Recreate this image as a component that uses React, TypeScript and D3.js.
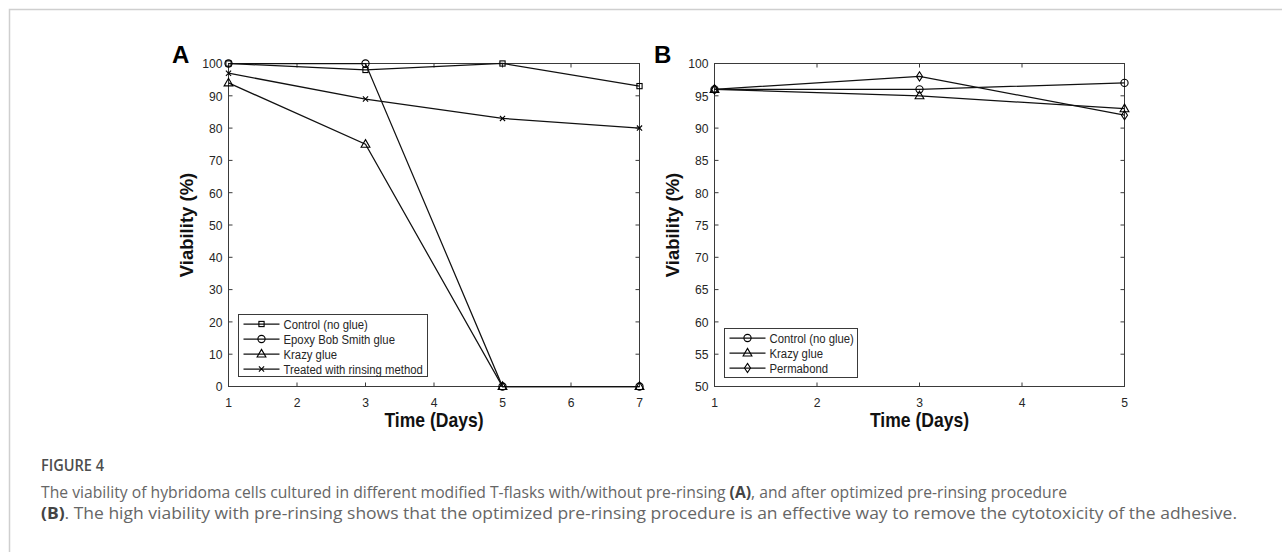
import React from "react";
import * as d3 from "d3";

// ---------- Data ----------
const daysA = [1, 3, 5, 7];
const controlA = [100, 98, 100, 93];
const epoxyA = [100, 100, 0, 0];
const krazyA = [94, 75, 0, 0];
const treatedA = [97, 89, 83, 80];
const xTicksA = [1, 2, 3, 4, 5, 6, 7];
const yTicksA = [0, 10, 20, 30, 40, 50, 60, 70, 80, 90, 100];

const daysB = [1, 3, 5];
const controlB = [96, 96, 97];
const krazyB = [96, 95, 93];
const permabondB = [96, 98, 92];
const xTicksB = [1, 2, 3, 4, 5];
const yTicksB = [50, 55, 60, 65, 70, 75, 80, 85, 90, 95, 100];

const seriesA = [
  { name: "Control (no glue)", marker: "square", values: controlA },
  { name: "Epoxy Bob Smith glue", marker: "circle", values: epoxyA },
  { name: "Krazy glue", marker: "triangle", values: krazyA },
  { name: "Treated with rinsing method", marker: "x", values: treatedA },
];
const seriesB = [
  { name: "Control (no glue)", marker: "circle", values: controlB },
  { name: "Krazy glue", marker: "triangle", values: krazyB },
  { name: "Permabond", marker: "diamond", values: permabondB },
];

const FONT = "'Liberation Sans', Arial, Helvetica, sans-serif";
const AXIS = "#3a3a3a";
const TXT = "#262626";
const SQ = 0.9; // horizontal condensing of the figure's text

function SText(props: { x: number; y: number; size: number; anchor?: string; bold?: boolean; fill?: string; sx?: number; children: React.ReactNode }) {
  const { x, y, size, anchor = "start", bold = false, fill = TXT, sx = SQ, children } = props;
  return (
    <g transform={`translate(${x},${y}) scale(${sx},1)`}>
      <text x={0} y={0} textAnchor={anchor as any} fontFamily={FONT} fontSize={size} fontWeight={bold ? "bold" : "normal"} fill={fill}>{children}</text>
    </g>
  );
}

function Marker({ type, x, y }: { type: string; x: number; y: number }) {
  const common = { fill: "none", stroke: "#000", strokeWidth: 1.1 };
  if (type === "square") return <rect x={x - 2.6} y={y - 2.6} width={5.2} height={5.2} {...common} />;
  if (type === "circle") return <circle cx={x} cy={y} r={3.6} {...common} />;
  if (type === "triangle") {
    const p = d3.path();
    p.moveTo(x, y - 4.6);
    p.lineTo(x + 4.4, y + 3.0);
    p.lineTo(x - 4.4, y + 3.0);
    p.closePath();
    return <path d={p.toString()} {...common} />;
  }
  if (type === "diamond") {
    const p = d3.path();
    p.moveTo(x, y - 4.6);
    p.lineTo(x + 3.0, y);
    p.lineTo(x, y + 4.6);
    p.lineTo(x - 3.0, y);
    p.closePath();
    return <path d={p.toString()} {...common} />;
  }
  const p = d3.path();
  p.moveTo(x - 2.6, y - 2.6);
  p.lineTo(x + 2.6, y + 2.6);
  p.moveTo(x - 2.6, y + 2.6);
  p.lineTo(x + 2.6, y - 2.6);
  return <path d={p.toString()} {...common} />;
}

type Series = { name: string; marker: string; values: number[] };

function Panel(props: {
  left: number; right: number; top: number; bottom: number;
  xDomain: [number, number]; yDomain: [number, number];
  xTicks: number[]; yTicks: number[]; days: number[]; series: Series[];
  letter: string; letterX: number;
  legend: { x: number; y: number; w: number; h: number; rowY0: number; rowDy: number };
}) {
  const { left, right, top, bottom, xDomain, yDomain, xTicks, yTicks, days, series, letter, letterX, legend } = props;
  const x = d3.scaleLinear().domain(xDomain).range([left, right]);
  const y = d3.scaleLinear().domain(yDomain).range([bottom, top]);
  const line = d3.line<[number, number]>().x((d) => x(d[0])).y((d) => y(d[1]));
  const tl = 4;
  return (
    <g>
      <rect x={left} y={top} width={right - left} height={bottom - top} fill="none" stroke={AXIS} strokeWidth={1} />
      {xTicks.map((t) => (
        <g key={"xt" + t}>
          <line x1={x(t)} x2={x(t)} y1={bottom} y2={bottom - tl} stroke={AXIS} />
          <line x1={x(t)} x2={x(t)} y1={top} y2={top + tl} stroke={AXIS} />
          <SText x={x(t)} y={bottom + 20} size={13.5} anchor="middle">{t}</SText>
        </g>
      ))}
      {yTicks.map((t) => (
        <g key={"yt" + t}>
          <line x1={left} x2={left + tl} y1={y(t)} y2={y(t)} stroke={AXIS} />
          <line x1={right} x2={right - tl} y1={y(t)} y2={y(t)} stroke={AXIS} />
          <SText x={left - 6} y={y(t) + 4.8} size={13.5} anchor="end">{t}</SText>
        </g>
      ))}
      <SText x={(left + right) / 2} y={bottom + 40} size={19.5} anchor="middle" bold fill="#111">Time (Days)</SText>
      <text transform={`translate(${left - 36},${(top + bottom) / 2}) rotate(-90)`} textAnchor="middle" fontFamily={FONT} fontSize={18.5} fontWeight="bold" fill="#111">Viability (%)</text>
      <text x={letterX} y={top - 1} fontFamily={FONT} fontSize={24} fontWeight="bold" fill="#000">{letter}</text>
      {series.map((s) => {
        const pts = days.map((d, i) => [d, s.values[i]] as [number, number]);
        return (
          <g key={s.name}>
            <path d={line(pts) || ""} fill="none" stroke="#111" strokeWidth={1.25} />
            {pts.map((p, i) => <Marker key={i} type={s.marker} x={x(p[0])} y={y(p[1])} />)}
          </g>
        );
      })}
      <rect x={legend.x} y={legend.y} width={legend.w} height={legend.h} fill="#fff" stroke={AXIS} strokeWidth={1} />
      {series.map((s, i) => {
        const ly = legend.rowY0 + i * legend.rowDy;
        return (
          <g key={"lg" + s.name}>
            <line x1={legend.x + 5} x2={legend.x + 41} y1={ly} y2={ly} stroke="#111" strokeWidth={1.25} />
            <Marker type={s.marker} x={legend.x + 23} y={ly} />
            <SText x={legend.x + 45} y={ly + 4.8} size={13.5} sx={0.84}>{s.name}</SText>
          </g>
        );
      })}
    </g>
  );
}

export default function App() {
  return (
    <svg width={1282} height={552} style={{ position: "absolute", left: 0, top: 0, background: "#fff" }}>
      <path d="M9.5,552 L9.5,9.5 L1282,9.5" fill="none" stroke="#cfcfcf" strokeWidth={1.5} />
      <Panel left={228.5} right={639.5} top={63.5} bottom={386.5} xDomain={[1, 7]} yDomain={[0, 100]}
        xTicks={xTicksA} yTicks={yTicksA} days={daysA} series={seriesA} letter="A" letterX={172}
        legend={{ x: 238.5, y: 314.5, w: 189, h: 62, rowY0: 324, rowDy: 15 }} />
      <Panel left={714.5} right={1124.5} top={63.5} bottom={386.5} xDomain={[1, 5]} yDomain={[50, 100]}
        xTicks={xTicksB} yTicks={yTicksB} days={daysB} series={seriesB} letter="B" letterX={654}
        legend={{ x: 724.5, y: 328.5, w: 133, h: 49, rowY0: 338, rowDy: 15 }} />
      <text x={41} y={471} fontFamily="'Open Sans', sans-serif" fontSize={17} fontWeight={600} fill="#4d4d4d" textLength={63} lengthAdjust="spacingAndGlyphs">FIGURE 4</text>
      <text x={41} y={498} fontFamily="'Open Sans', sans-serif" fontSize={15.5} fill="#666" textLength={1026} lengthAdjust="spacingAndGlyphs">
        The viability of hybridoma cells cultured in different modified T-flasks with/without pre-rinsing <tspan fontWeight="bold" fill="#444">(A)</tspan>, and after optimized pre-rinsing procedure
      </text>
      <text x={41} y={519} fontFamily="'Open Sans', sans-serif" fontSize={15.5} fill="#666" textLength={1196} lengthAdjust="spacingAndGlyphs">
        <tspan fontWeight="bold" fill="#444">(B)</tspan>. The high viability with pre-rinsing shows that the optimized pre-rinsing procedure is an effective way to remove the cytotoxicity of the adhesive.
      </text>
    </svg>
  );
}
